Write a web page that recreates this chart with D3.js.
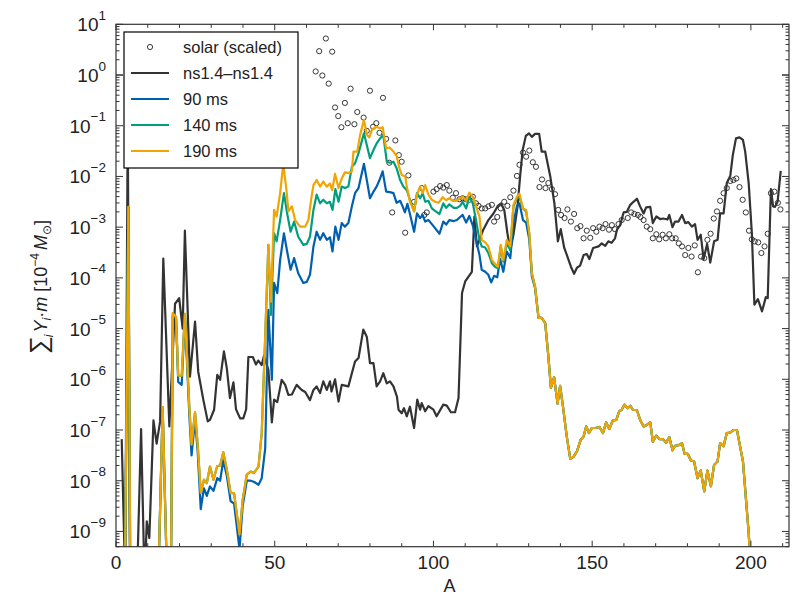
<!DOCTYPE html>
<html>
<head>
<meta charset="utf-8">
<script src="https://cdn.jsdelivr.net/npm/d3@7"></script>
<style>
  body { margin: 0; background: #fff; }
  text { font-family: "Liberation Sans", Arial, sans-serif; fill: #222; }
</style>
</head>
<body>
<svg width="792" height="598"></svg>
<script>
// all values are [A, log10(sum Y*m)]; -10 = below the plot
var solar = [[62.9,0.07],[64,0.47],[65,-0.01],[66.1,0.72],[67,-0.17],[68.1,0.46],[69,-0.64],[70,-0.81],[71,-1.03],[72.1,-0.55],[73,-0.95],[73.9,-0.27],[75.1,-0.97],[76,-0.73],[78,-0.84],[79,-1.10],[80,-0.31],[81,-1.02],[82,-0.95],[83,-1.14],[84.1,-0.45],[85.1,-1.26],[86.1,-1.73],[87,-2.71],[88,-1.29],[89.1,-1.58],[90,-1.71],[91.1,-3.11],[92.1,-1.98],[93.9,-2.50],[96.3,-2.23],[97.1,-2.76],[97.9,-2.71],[100,-2.30],[101,-2.25],[102.1,-2.19],[103.1,-2.22],[104.2,-2.17],[105,-2.28],[106.1,-2.42],[107.1,-2.33],[108.2,-2.45],[109.2,-2.43],[110.3,-2.45],[111.3,-2.46],[112.4,-2.40],[113.4,-2.53],[114.2,-2.58],[115.2,-2.63],[116.3,-2.63],[117.3,-2.59],[118.4,-2.56],[119.1,-2.89],[120.1,-2.80],[121.2,-2.63],[122.3,-2.50],[123.3,-2.58],[124.2,-2.41],[125.2,-2.28],[126.3,-1.99],[127.1,-1.77],[128.2,-1.53],[129.2,-1.61],[130.2,-1.49],[131.3,-1.72],[132.3,-1.81],[133.4,-2.21],[134.2,-2.06],[135.3,-2.23],[136.2,-2.13],[137.3,-2.25],[138.3,-2.35],[139.3,-2.66],[140.2,-2.76],[141.3,-2.82],[142.2,-2.65],[143.3,-2.89],[144.3,-2.74],[145.3,-3.02],[146.3,-2.98],[147.3,-3.22],[148.3,-3.07],[149.4,-3.21],[150.3,-3.02],[151.3,-3.09],[152.3,-2.99],[153.3,-3.02],[154.2,-2.94],[155.3,-3.05],[156.2,-2.96],[157.2,-3.04],[158.3,-2.94],[159.3,-2.86],[161.2,-2.82],[162.3,-2.71],[163.3,-2.74],[164.4,-2.76],[165.2,-2.80],[166.2,-2.86],[167.2,-2.99],[168.3,-3.04],[169.1,-3.22],[170.2,-3.14],[171.1,-3.24],[172.2,-3.15],[173.2,-3.22],[174.3,-3.14],[175.2,-3.22],[176.3,-3.22],[177.3,-3.32],[178.3,-3.38],[179.3,-3.55],[180.3,-3.41],[181.3,-3.58],[182.3,-3.36],[183.3,-3.89],[184.3,-3.58],[185.3,-3.61],[186.3,-3.25],[187.3,-3.13],[188.3,-2.83],[189.3,-2.69],[190.3,-2.48],[191.4,-2.33],[192.4,-2.23],[193.5,-2.09],[194.5,-2.07],[195.4,-2.04],[196.4,-2.21],[197.4,-2.46],[198.4,-2.71],[199.4,-3.07],[200.3,-3.24],[201.2,-3.28],[202.3,-3.30],[203.3,-3.51],[204.3,-3.38],[205.3,-3.13],[206.3,-2.33],[207.4,-2.30],[208.5,-2.52],[209.3,-2.65]];

var ns14 = [[1.8,-7.18],[2.9,-10],[3.7,-0.8],[4.4,-10],[6.6,-10],[7.9,-6.98],[9.0,-10],[9.7,-8.8],[10.5,-9.13],[11.8,-6.81],[12.8,-7.27],[13.9,-6.83],[14.9,-3.62],[16.8,-6.93],[18.6,-4.51],[19.9,-4.40],[21.0,-5.0],[21.7,-3.07],[23.3,-5.95],[24.9,-4.86],[25.9,-5.85],[27.5,-6.40],[28.9,-6.83],[29.6,-6.8],[30.9,-6.60],[31.9,-5.91],[32.8,-6.01],[34.0,-5.45],[34.9,-5.78],[35.9,-6.37],[37.0,-6.06],[37.8,-6.59],[39.1,-6.77],[40.1,-6.77],[41.0,-6.59],[41.7,-5.56],[43.1,-5.56],[44.1,-5.71],[44.8,-5.63],[45.9,-5.72],[46.6,-5.54],[48.0,-5.81],[49.1,-6.85],[49.8,-6.40],[50.8,-6.45],[52.2,-6.01],[53.3,-6.11],[54.3,-6.31],[55.4,-6.30],[56.9,-6.11],[58.5,-6.21],[59.6,-6.25],[61.1,-6.41],[62.2,-6.21],[63.2,-6.14],[64.3,-6.27],[65.3,-6.04],[66.4,-6.21],[67.4,-6.04],[67.9,-6.24],[69.0,-6.0],[70.1,-6.44],[71.1,-6.11],[73.2,-6.14],[74.3,-5.88],[75.3,-5.65],[76.4,-5.58],[77.9,-5.02],[79.0,-5.16],[80.0,-5.68],[81.1,-5.68],[82.1,-6.14],[83.2,-6.04],[84.2,-5.88],[85.3,-6.08],[86.3,-6.04],[87.4,-6.14],[88.5,-6.34],[89.0,-6.60],[90.0,-6.67],[90.7,-6.57],[91.6,-6.73],[92.6,-6.54],[93.9,-6.96],[94.9,-6.40],[95.8,-6.60],[96.3,-6.47],[97.4,-6.63],[98.4,-6.53],[100.0,-6.60],[101.0,-6.73],[103.1,-6.50],[104.2,-6.52],[105.5,-6.65],[106.8,-6.65],[107.9,-6.37],[109.0,-4.30],[110.0,-4.07],[112.1,-3.88],[112.9,-2.79],[113.7,-3.38],[115.7,-3.05],[117.3,-2.86],[118.9,-2.73],[120.3,-2.58],[121.3,-2.53],[122.3,-2.66],[123.3,-3.12],[124.2,-3.45],[125.2,-3.15],[126.5,-2.59],[127.3,-2.0],[128.1,-1.48],[129.1,-1.20],[130.1,-1.15],[131.0,-1.22],[132.0,-1.16],[133.3,-1.16],[134.1,-1.51],[135.2,-1.51],[136.8,-2.0],[138.1,-2.53],[139.2,-3.28],[140.1,-3.04],[141.2,-3.41],[142.2,-3.58],[143.3,-3.78],[144.3,-3.92],[145.2,-3.80],[146.2,-3.76],[147.3,-3.55],[148.3,-3.53],[149.1,-3.63],[150.3,-3.41],[152.0,-3.38],[153.0,-3.32],[154.1,-3.37],[155.1,-3.28],[156.1,-3.31],[157.2,-3.22],[157.8,-3.05],[158.8,-2.96],[159.9,-2.71],[160.9,-2.70],[162.0,-2.56],[163.0,-2.50],[164.1,-2.44],[165.1,-2.59],[166.2,-2.73],[167.0,-2.61],[168.3,-2.60],[169.1,-2.92],[170.2,-2.79],[171.4,-2.84],[172.4,-2.83],[173.7,-2.85],[174.3,-2.76],[175.3,-3.0],[176.1,-2.89],[177.2,-2.89],[178.3,-2.76],[179.3,-2.92],[180.3,-2.90],[181.4,-2.99],[182.4,-2.94],[183.2,-3.25],[184.2,-3.15],[185.1,-3.63],[186.2,-3.33],[187.2,-3.70],[188.4,-3.28],[189.5,-3.25],[190.3,-2.73],[191.4,-2.73],[192.4,-2.13],[193.5,-1.99],[194.3,-1.58],[195.3,-1.25],[196.4,-1.23],[197.5,-1.28],[198.2,-1.51],[199.3,-2.13],[200.3,-3.12],[201.1,-4.53],[202.2,-4.42],[203.5,-4.66],[204.7,-4.38],[205.3,-4.40],[206.3,-2.25],[207.0,-2.59],[207.6,-2.60],[208.4,-2.50],[209.4,-1.89]];

// light elements, same for 140 and 190 ms
var headLate = [[2.8,-10],[3.9,-2.6],[4.5,-10],[13.3,-10],[14.7,-6.55],[16.1,-10],[17.3,-10],[17.9,-4.70],[18.9,-4.77],[19.6,-5.93],[20.7,-5.93],[21.7,-4.71],[23.1,-6.54],[23.8,-7.29],[24.9,-6.65],[25.7,-7.26],[26.7,-8.24],[27.7,-7.98],[28.6,-8.05],[29.6,-7.72],[30.7,-7.98],[31.9,-7.71],[32.8,-7.70],[33.8,-7.44],[34.9,-7.78],[36.1,-8.24],[37.2,-8.25],[38.9,-9.06],[39.9,-8.38],[41.2,-7.88],[42.4,-7.82],[43.4,-7.85],[44.9,-7.72],[45.9,-7.06],[47.0,-5.16]];
var head90 = [[2.8,-10],[3.9,-2.6],[4.5,-10],[13.3,-10],[14.7,-6.6],[16.1,-10],[17.3,-10],[17.9,-4.75],[18.9,-4.8],[19.6,-6.05],[20.7,-6.11],[21.7,-4.75],[23.1,-6.7],[23.8,-7.5],[24.9,-6.8],[25.7,-7.4],[26.7,-8.56],[27.7,-8.15],[28.6,-8.3],[29.6,-8.11],[30.7,-8.2],[31.9,-7.95],[32.8,-8.0],[33.8,-7.6],[34.9,-7.9],[36.1,-8.4],[37.2,-8.45],[38.9,-9.35],[39.9,-8.5],[41.2,-8.0],[42.4,-8.0],[43.4,-8.02],[44.9,-8.08],[45.9,-7.95],[47.0,-7.36]];

var mid90 = [[48.0,-4.63],[49.1,-6.01],[49.8,-4.10],[50.8,-4.30],[51.7,-3.65],[52.9,-3.12],[54.0,-3.51],[55.0,-3.84],[56.1,-3.61],[57.4,-3.91],[59.0,-4.10],[60.1,-4.08],[61.1,-3.94],[62.2,-3.38],[63.2,-3.09],[64.3,-3.25],[65.3,-3.12],[66.4,-3.25],[67.4,-3.20],[68.2,-3.48],[69.1,-2.99],[70.1,-3.25],[71.1,-2.92],[72.1,-2.99],[73.2,-2.92],[74.3,-2.59],[75.3,-2.33],[76.4,-2.23],[78.1,-1.75],[79.0,-2.07],[80.0,-2.43],[81.1,-2.30],[82.1,-2.20],[83.2,-2.04],[84.0,-1.90],[85.1,-2.30],[86.3,-2.31],[87.4,-2.33],[88.4,-2.52],[89.5,-2.48],[90.3,-2.59],[91.0,-2.71],[91.8,-2.54],[92.6,-2.74],[93.9,-3.09],[94.8,-2.73],[95.8,-2.82],[96.6,-2.76],[97.4,-2.89],[98.4,-2.86],[99.5,-2.94],[100.5,-3.02],[101.9,-3.13],[103.1,-2.89],[104.0,-2.95],[105.0,-2.86],[106.4,-2.88],[107.4,-2.86],[108.4,-2.80],[109.2,-2.76],[110.3,-2.91],[111.3,-2.78],[112.4,-2.97],[113.4,-3.25],[114.5,-3.55],[115.2,-3.84],[116.3,-3.88],[117.3,-3.94],[118.2,-4.09],[119.1,-3.96],[120.1,-3.99],[121.0,-3.63],[122.0,-3.88],[123.1,-3.48],[124.2,-3.61],[125.2,-2.92],[126.3,-2.58],[127.1,-2.53],[128.2,-2.86],[129.2,-2.91],[130.2,-3.25],[131.0,-3.97],[132.0,-4.20]];
var mid140 = [[48.0,-3.35],[48.8,-4.73],[49.8,-3.12],[50.6,-3.28],[51.7,-2.86],[52.9,-2.33],[54.0,-2.76],[55.0,-3.09],[56.1,-2.89],[57.4,-3.19],[59.0,-3.35],[60.1,-3.33],[61.1,-3.19],[62.2,-2.66],[63.2,-2.36],[64.3,-2.53],[65.3,-2.46],[66.4,-2.53],[67.4,-2.50],[68.2,-2.66],[69.1,-2.25],[70.1,-2.50],[71.1,-2.20],[72.1,-2.23],[73.2,-2.20],[74.3,-1.81],[75.3,-1.74],[76.4,-1.54],[78.1,-1.15],[79.0,-1.38],[80.0,-1.64],[81.1,-1.48],[82.1,-1.35],[83.2,-1.25],[84.2,-1.18],[85.3,-1.71],[86.3,-1.73],[87.4,-1.71],[88.4,-1.84],[89.5,-2.07],[90.5,-2.20],[91.6,-2.27],[92.6,-2.46],[93.9,-2.69],[94.8,-2.33],[95.8,-2.43],[96.6,-2.33],[97.4,-2.50],[98.4,-2.48],[99.5,-2.63],[100.5,-2.68],[101.9,-2.74],[103.1,-2.53],[104.0,-2.62],[105.0,-2.55],[106.4,-2.62],[107.4,-2.62],[108.4,-2.58],[109.2,-2.50],[110.3,-2.63],[111.3,-2.40],[112.4,-2.53],[113.4,-2.86],[114.5,-3.25],[115.2,-3.38],[116.3,-3.40],[117.3,-3.51],[118.4,-3.71],[119.4,-3.78],[120.3,-3.81],[121.2,-3.38],[122.0,-3.68],[123.1,-3.32],[124.2,-3.45],[125.2,-2.59],[126.3,-2.43],[127.1,-2.41],[128.2,-2.63],[129.2,-2.69],[130.2,-3.15],[131.0,-3.91],[132.0,-4.17]];
var mid190 = [[48.0,-3.35],[48.8,-4.47],[49.8,-2.66],[50.6,-2.79],[51.7,-2.33],[52.7,-1.75],[53.8,-2.33],[54.3,-2.69],[55.4,-2.59],[56.4,-2.86],[58.0,-2.99],[59.6,-2.99],[60.6,-2.86],[61.6,-2.40],[62.2,-2.17],[63.2,-2.07],[64.3,-2.20],[65.3,-2.10],[66.4,-2.20],[67.4,-2.14],[68.1,-2.27],[69.0,-1.95],[70.1,-2.23],[71.1,-2.04],[72.1,-1.92],[73.2,-1.93],[74.3,-1.90],[74.8,-1.51],[76.0,-1.51],[76.9,-1.18],[78.1,-0.89],[79.0,-1.18],[79.8,-1.23],[80.6,-1.08],[81.9,-1.02],[83.2,-1.05],[84.0,-1.03],[85.1,-1.45],[86.2,-1.43],[87.4,-1.51],[88.4,-1.60],[89.3,-1.84],[90.0,-1.97],[91.1,-2.00],[91.6,-2.20],[92.6,-2.50],[93.9,-2.69],[94.8,-2.36],[95.8,-2.20],[96.6,-2.33],[97.4,-2.17],[98.4,-2.36],[99.5,-2.46],[100.5,-2.50],[101.6,-2.52],[102.9,-2.41],[104.0,-2.47],[105.0,-2.43],[106.1,-2.48],[107.4,-2.48],[108.4,-2.43],[109.2,-2.40],[110.3,-2.48],[111.3,-2.32],[112.4,-2.40],[113.4,-2.59],[114.5,-2.79],[115.2,-3.25],[116.3,-3.30],[117.3,-3.38],[118.4,-3.65],[119.4,-3.72],[120.3,-3.78],[121.2,-3.35],[122.0,-3.65],[123.1,-3.25],[124.2,-3.38],[125.2,-2.56],[126.3,-2.40],[127.1,-2.34],[128.2,-2.63],[129.2,-2.66],[130.2,-3.12],[131.0,-3.91],[132.0,-4.17]];

// heavy elements, the three times coincide
var tailAll = [[133.1,-4.79],[134.1,-4.79],[135.2,-4.89],[136.2,-5.55],[137.0,-6.17],[138.0,-5.96],[139.1,-6.48],[139.9,-6.13],[140.8,-6.54],[142.0,-7.13],[143.1,-7.57],[144.1,-7.53],[145.2,-7.42],[146.4,-7.19],[147.3,-7.13],[148.1,-6.93],[149.0,-7.06],[149.9,-6.96],[151.0,-6.96],[152.3,-6.94],[153.4,-7.06],[154.4,-6.85],[155.4,-6.98],[156.5,-6.81],[157.6,-6.80],[158.5,-6.63],[159.3,-6.60],[160.2,-6.50],[161.2,-6.57],[162.0,-6.52],[162.8,-6.60],[164.1,-6.61],[165.1,-6.80],[166.2,-6.93],[167.2,-6.90],[168.3,-6.85],[169.1,-7.23],[170.2,-7.11],[171.2,-7.18],[172.3,-7.18],[173.3,-7.25],[174.3,-7.14],[175.3,-7.40],[176.1,-7.31],[177.2,-7.30],[178.3,-7.26],[179.1,-7.47],[180.1,-7.47],[181.1,-7.60],[182.1,-7.62],[183.2,-7.95],[184.2,-7.80],[185.3,-8.21],[186.3,-7.80],[187.4,-8.11],[188.4,-7.69],[189.5,-7.62],[190.3,-7.26],[191.4,-7.32],[192.4,-7.06],[193.5,-7.05],[194.5,-7.00],[195.6,-7.00],[197.5,-7.62],[199.3,-9.03],[200.2,-10]];

var series = [
  {name: "ns1.4\u2013ns1.4", color: "#333333", pts: ns14},
  {name: "90 ms", color: "#0060B0", pts: head90.concat(mid90, tailAll)},
  {name: "140 ms", color: "#009E7E", pts: headLate.concat(mid140, tailAll)},
  {name: "190 ms", color: "#F2A400", pts: headLate.concat(mid190, tailAll)}
];
var xTicks = [0, 50, 100, 150, 200];
var yDecades = [1, 0, -1, -2, -3, -4, -5, -6, -7, -8, -9];

var svg = d3.select("svg");
var margin = {left: 116, right: 3, top: 24.3, bottom: 51.3};
var width = +svg.attr("width") - margin.left - margin.right;
var height = +svg.attr("height") - margin.top - margin.bottom;

var x = d3.scaleLinear().domain([0, 212]).range([0, width]);
var y = d3.scaleLog().domain([5e-10, 10]).range([height, 0]);

var g = svg.append("g").attr("transform", "translate(" + margin.left + "," + margin.top + ")");

g.append("clipPath").attr("id", "clip")
  .append("rect").attr("width", width).attr("height", height);

var plot = g.append("g").attr("clip-path", "url(#clip)");

// solar points first, lines over them
plot.selectAll("circle.solar")
  .data(solar)
  .enter().append("circle")
    .attr("class", "solar")
    .attr("cx", function(d) { return x(d[0]); })
    .attr("cy", function(d) { return y(Math.pow(10, d[1])); })
    .attr("r", 2.6)
    .attr("fill", "none")
    .attr("stroke", "#222")
    .attr("stroke-width", 0.9);

var line = d3.line()
  .x(function(d) { return x(d[0]); })
  .y(function(d) { return y(Math.pow(10, d[1])); });

series.forEach(function(s) {
  plot.append("path")
    .datum(s.pts)
    .attr("fill", "none")
    .attr("stroke", s.color)
    .attr("stroke-width", 2.2)
    .attr("stroke-linejoin", "round")
    .attr("d", line);
});

// frame and ticks (inward, on all four sides)
g.append("rect").attr("width", width).attr("height", height)
  .attr("fill", "none").attr("stroke", "#333").attr("stroke-width", 1.2);

var ticks = g.append("g").attr("stroke", "#333").attr("stroke-width", 1);
d3.range(0, 213, 10).forEach(function(a) {
  var len = a % 50 === 0 ? 6 : 3.5;
  ticks.append("line").attr("x1", x(a)).attr("x2", x(a)).attr("y1", height).attr("y2", height - len);
  ticks.append("line").attr("x1", x(a)).attr("x2", x(a)).attr("y1", 0).attr("y2", len);
});
d3.range(-10, 1).forEach(function(e) {
  d3.range(1, 10).forEach(function(m) {
    var v = m * Math.pow(10, e);
    if (v < 5e-10 || v > 10) return;
    var len = m === 1 ? 7 : 3.5;
    ticks.append("line").attr("x1", 0).attr("x2", len).attr("y1", y(v)).attr("y2", y(v));
    ticks.append("line").attr("x1", width).attr("x2", width - len).attr("y1", y(v)).attr("y2", y(v));
  });
});
[1, 10].forEach(function(v) {
  ticks.append("line").attr("x1", 0).attr("x2", 7).attr("y1", y(v)).attr("y2", y(v));
  ticks.append("line").attr("x1", width).attr("x2", width - 7).attr("y1", y(v)).attr("y2", y(v));
});

// tick labels
g.selectAll("text.xtl")
  .data(xTicks)
  .enter().append("text")
    .attr("class", "xtl")
    .attr("x", function(d) { return x(d); })
    .attr("y", height + 22)
    .attr("text-anchor", "middle")
    .style("font-size", "19px")
    .text(function(d) { return d; });

var ytl = g.selectAll("text.ytl")
  .data(yDecades)
  .enter().append("text")
    .attr("class", "ytl")
    .attr("x", -10)
    .attr("y", function(d) { return y(Math.pow(10, d)) + 7; })
    .attr("text-anchor", "end")
    .style("font-size", "19px");
ytl.append("tspan").text("10");
ytl.append("tspan")
  .attr("dy", -11.5)
  .style("font-size", "13.5px")
  .text(function(d) { return d < 0 ? "\u2212" + (-d) : d; });

// axis titles
g.append("text")
  .attr("x", width / 2 - 3)
  .attr("y", height + 45)
  .attr("text-anchor", "middle")
  .style("font-size", "18px")
  .text("A");

var yl = svg.append("text")
  .attr("transform", "translate(47,287) rotate(-90)")
  .attr("text-anchor", "middle")
  .style("font-size", "18px");
yl.append("tspan").style("font-size", "25px").text("\u2211");
yl.append("tspan").attr("dy", 6).attr("dx", -1).style("font-size", "12px").style("font-style", "italic").text("i");
yl.append("tspan").attr("dy", -6).attr("dx", 2).style("font-style", "italic").text("Y");
yl.append("tspan").attr("dy", 4).style("font-size", "12px").style("font-style", "italic").text("i");
yl.append("tspan").attr("dy", -4).text("\u00b7");
yl.append("tspan").style("font-style", "italic").text("m");
yl.append("tspan").text(" [10");
yl.append("tspan").attr("dy", -8).style("font-size", "12px").text("\u22124");
yl.append("tspan").attr("dy", 8).attr("dx", 3).style("font-style", "italic").text("M");
yl.append("tspan").attr("dy", 4).style("font-size", "12px").text("\u2299");
yl.append("tspan").attr("dy", -4).text("]");

// legend
var legend = svg.append("g").attr("transform", "translate(124,32)");
legend.append("rect")
  .attr("width", 174).attr("height", 136)
  .attr("fill", "#fff").attr("stroke", "#000").attr("stroke-width", 1.2);

var rows = [{name: "solar (scaled)", marker: true}].concat(series);
var item = legend.selectAll("g.item")
  .data(rows)
  .enter().append("g")
    .attr("class", "item")
    .attr("transform", function(d, i) { return "translate(0," + (15 + i * 26) + ")"; });

item.filter(function(d) { return d.marker; })
  .append("circle")
    .attr("cx", 26).attr("r", 2.6)
    .attr("fill", "none").attr("stroke", "#222").attr("stroke-width", 0.9);
item.filter(function(d) { return !d.marker; })
  .append("line")
    .attr("x1", 7).attr("x2", 45)
    .attr("stroke", function(d) { return d.color; })
    .attr("stroke-width", 2.2);
item.append("text")
  .attr("x", 59).attr("y", 6)
  .style("font-size", "16.5px")
  .text(function(d) { return d.name; });
</script>
</body>
</html>
